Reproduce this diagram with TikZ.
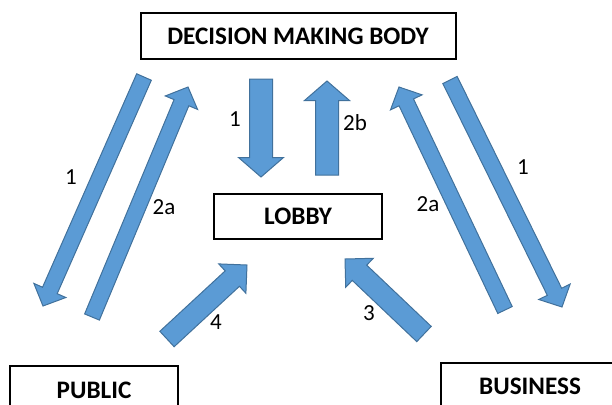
\documentclass[tikz,border=0pt]{standalone}
\usepackage{fontspec}
\setmainfont{Carlito}
\usetikzlibrary{positioning,calc}

\definecolor{arrowfill}{HTML}{5B9BD5}
\definecolor{arrowline}{HTML}{41719C}

% block arrow: tail, tip, half shaft width, half head width, head length
\newcommand{\blockarrow}[5]{%
  \coordinate (neck) at ($(#2)!#5!(#1)$);
  \filldraw[blockarrownode] ($(#1)!#3!90:(#2)$) -- ($(neck)!#3!90:(#2)$) -- ($(neck)!#4!90:(#2)$) -- (#2)
    -- ($(neck)!#4!-90:(#2)$) -- ($(neck)!#3!-90:(#2)$) -- ($(#1)!#3!-90:(#2)$) -- cycle;}

\begin{document}
\begin{tikzpicture}[x=0.5pt, y=-0.5pt,
        boxnode/.style={rectangle, draw=black, line width=1pt, inner sep=0pt, font=\bfseries\fontsize{12.6}{15}\selectfont},
        labelnode/.style={inner sep=0pt, font=\fontsize{11.5}{14}\selectfont},
        blockarrownode/.style={fill=arrowfill, draw=arrowline, line width=0.5pt},
        ]
        \clip (0,0) rectangle (612,404);
        %Nodes
        \node[boxnode] (dmb) at (298,36) [minimum width=157.5pt, minimum height=23pt] {DECISION MAKING BODY};
        \node[boxnode] (lobby) [below=66.5pt of dmb, minimum width=84pt, minimum height=22.5pt] {LOBBY};
        \node[boxnode] (public) at (94,390) [minimum width=84pt, minimum height=24pt] {PUBLIC};
        \node[boxnode] (business) at (530,386.5) [minimum width=89pt, minimum height=23.5pt] {BUSINESS};

        %Arrow ends
        \coordinate (pubdownA) at (144,77);
        \coordinate (pubdownB) at (43,306);
        \coordinate (pubupA) at (92,317);
        \coordinate (pubupB) at (188,87);
        \coordinate (busupA) at (505,310);
        \coordinate (busupB) at (399,87);
        \coordinate (busdownA) at (450,80);
        \coordinate (busdownB) at (562,307);
        \coordinate (lobdownA) at (261,79);
        \coordinate (lobdownB) at (261,177);
        \coordinate (lobupA) at (327,175);
        \coordinate (lobupB) at (327,81);
        \coordinate (pubinA) at (167,339);
        \coordinate (pubinB) at (247,265);
        \coordinate (businA) at (424,334);
        \coordinate (businB) at (345,259);

        %Arrows
        \blockarrow{pubdownA}{pubdownB}{4pt}{8.75pt}{8.5pt}
        \blockarrow{pubupA}{pubupB}{4pt}{8.75pt}{8.5pt}
        \blockarrow{busupA}{busupB}{4pt}{8.75pt}{8.5pt}
        \blockarrow{busdownA}{busdownB}{4pt}{8.75pt}{8.5pt}
        \blockarrow{lobdownA}{lobdownB}{5.75pt}{11.25pt}{9.75pt}
        \blockarrow{lobupA}{lobupB}{5.75pt}{11.25pt}{9.75pt}
        \blockarrow{pubinA}{pubinB}{5.25pt}{10pt}{10pt}
        \blockarrow{businA}{businB}{5.25pt}{10pt}{10pt}

        %Labels
        \node[labelnode] (pubdownlbl) at (71,177) {1};
        \node[labelnode] (publbl) at (164,207) {2a};
        \node[labelnode] (lobdownlbl) at (235,119) {1};
        \node[labelnode] (lobuplbl) at (355,123) {2b};
        \node[labelnode] (buslbl) at (428,204) {2a};
        \node[labelnode] (busdownlbl) at (523,167) {1};
        \node[labelnode] (pubinlbl) at (216,322) {4};
        \node[labelnode] (businlbl) at (369,313) {3};
    \end{tikzpicture}
\end{document}
